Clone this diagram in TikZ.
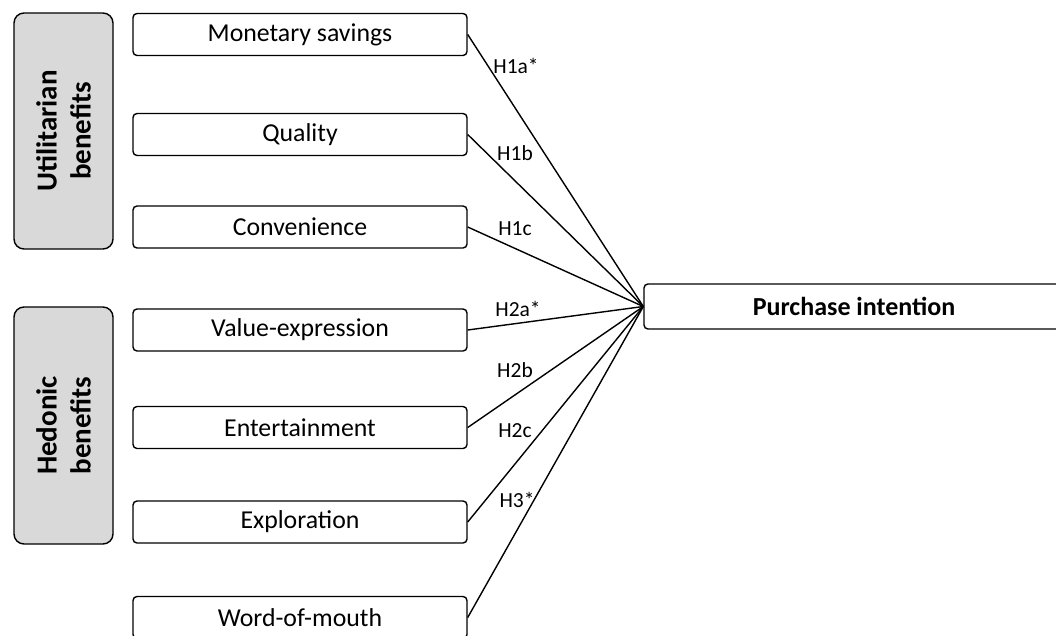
\documentclass[tikz,border=0pt]{standalone}
\usepackage{fontspec}
\setmainfont{Carlito}
\begin{document}
\begin{tikzpicture}[x=1pt,y=-1pt,
  line width=1.4pt,
  itembox/.style={draw, rounded corners=4pt, minimum width=334pt, minimum height=42pt, inner sep=0pt, font=\fontsize{25.8}{30}\selectfont},
  groupbox/.style={draw, fill=gray!30, rounded corners=10pt, rotate=90, minimum height=99pt, inner sep=0pt, align=center, font=\fontsize{29}{34}\selectfont\bfseries},
  pibox/.style={draw, rounded corners=4pt, minimum width=420pt, minimum height=45pt, inner sep=0pt, font=\fontsize{26}{30}\selectfont\bfseries},
  hlab/.style={inner sep=0pt, font=\fontsize{21.5}{24}\selectfont},
  link/.style={line width=1.4pt}]
\useasboundingbox (0,0) rectangle (1056,635);
\clip (0,0) rectangle (1056,635);

\node[groupbox, minimum width=236pt] (util) at (63.5,131) {Utilitarian\\benefits};
\node[groupbox, minimum width=237pt] (hed) at (63.5,425.5) {Hedonic\\benefits};

\node[itembox] (mon) at (300,34.5) {Monetary savings};
\node[itembox] (qua) at (300,134.5) {Quality};
\node[itembox] (con) at (300,227) {Convenience};
\node[itembox] (val) at (300,330) {Value-expression};
\node[itembox] (ent) at (300,427.5) {Entertainment};
\node[itembox] (exp) at (300,522) {Exploration};
\node[itembox] (wom) at (300,617.5) {Word-of-mouth};

\node[pibox] (pi) at (854,306.5) {Purchase intention};

\foreach \n in {mon,qua,con,val,ent,exp,wom}
  \draw[link] (\n.east) -- (pi.west);

\node[hlab] (l1) at (516,66) {H1a*};
\node[hlab] (l2) at (515,153) {H1b};
\node[hlab] (l3) at (515,229) {H1c};
\node[hlab] (l4) at (518,309) {H2a*};
\node[hlab] (l5) at (515,370) {H2b};
\node[hlab] (l6) at (515,431) {H2c};
\node[hlab] (l7) at (517,500) {H3*};
\end{tikzpicture}
\end{document}
